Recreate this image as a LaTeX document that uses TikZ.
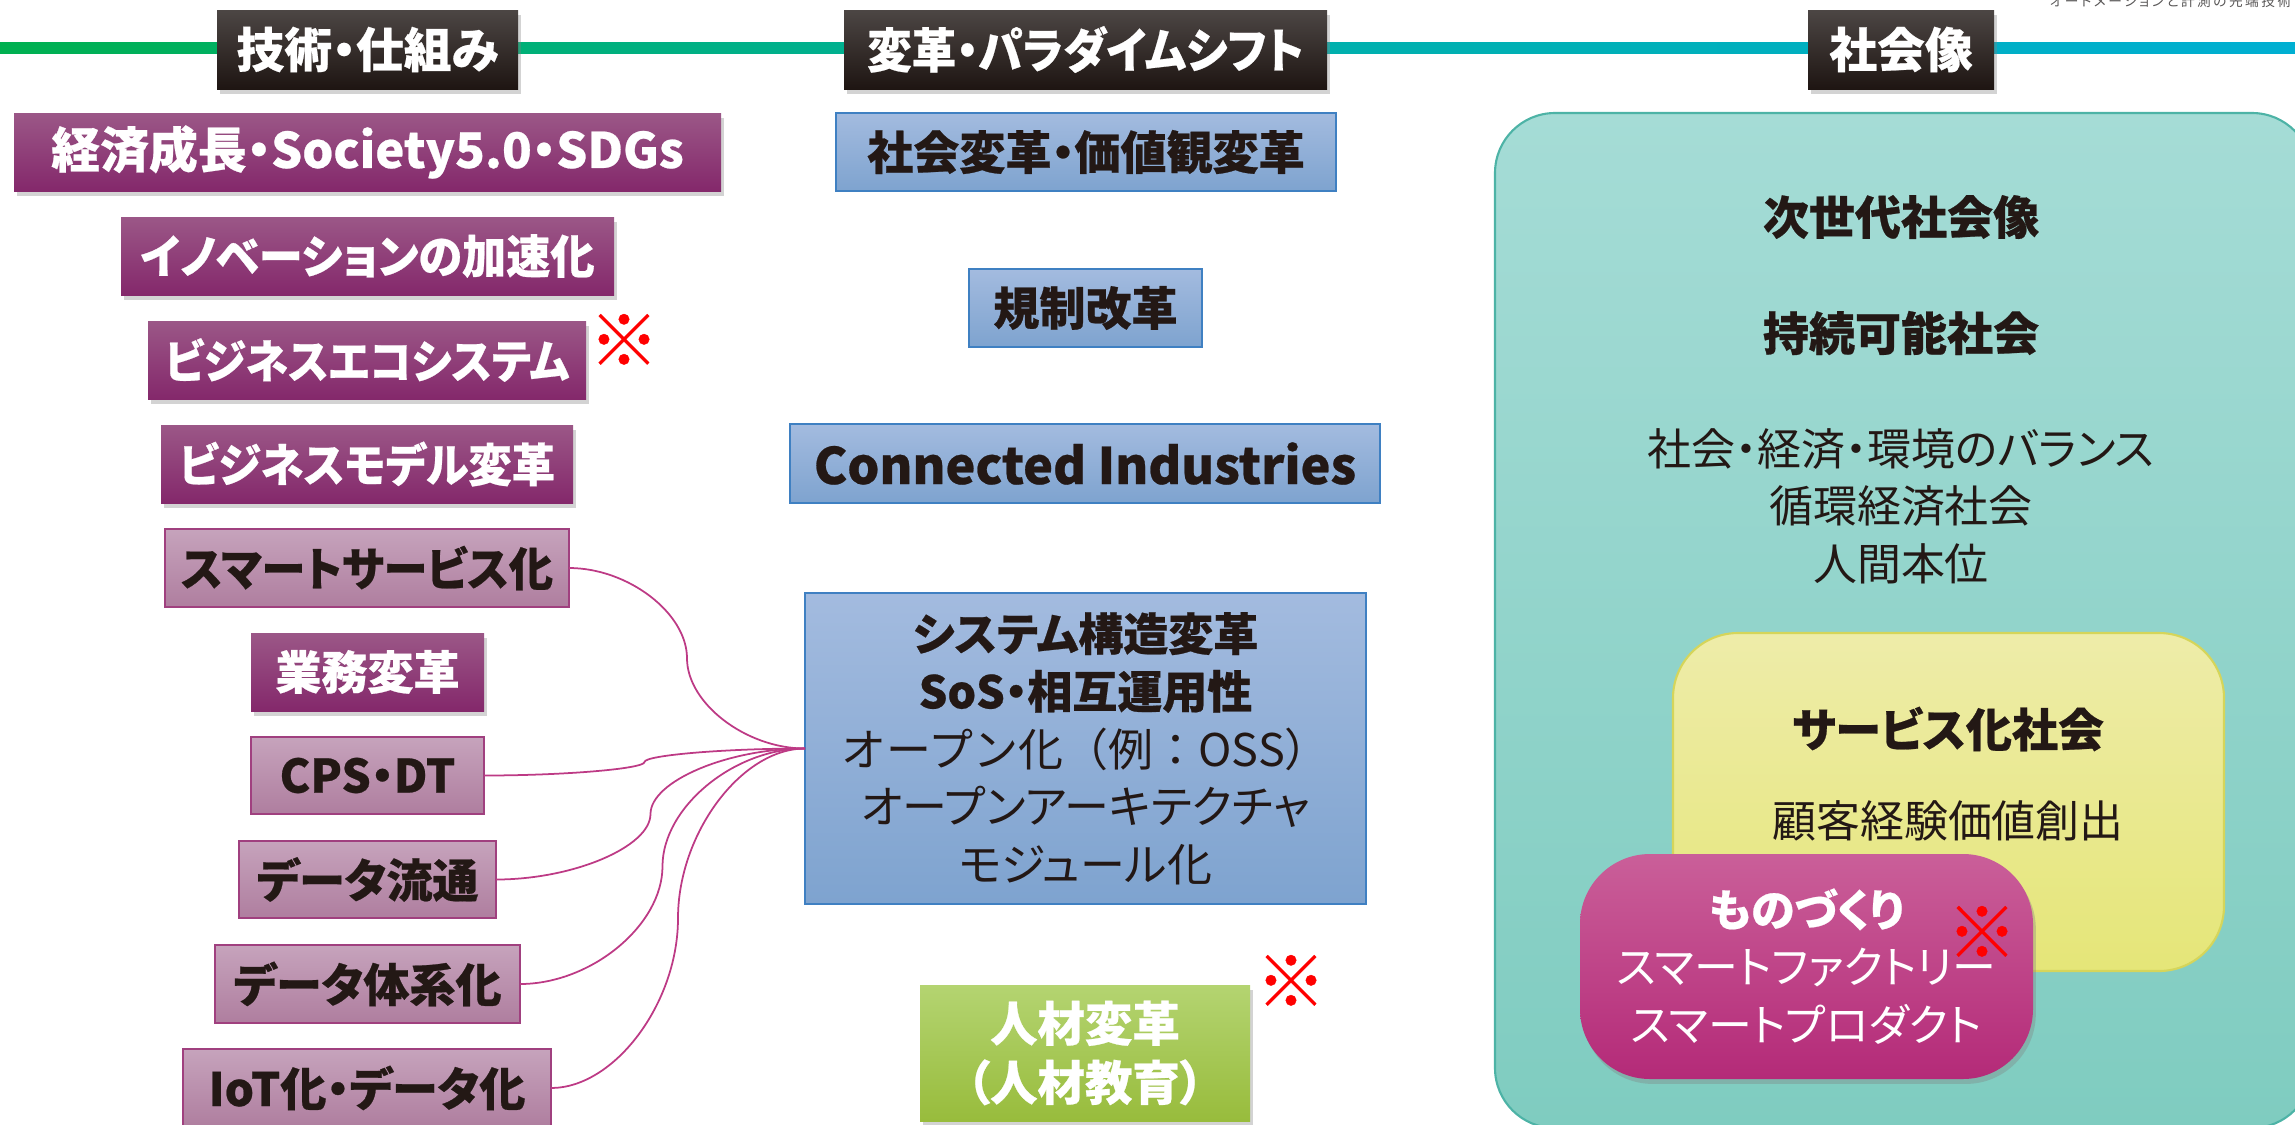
\documentclass[tikz,border=0pt]{standalone}
\usepackage{fontspec}
\setmainfont{Noto Sans CJK JP}[RawFeature=+palt,BoldFeatures={FakeBold=0.5}]
\usetikzlibrary{calc,shadows}
\definecolor{txt}{HTML}{231815}
\definecolor{hdtop}{HTML}{4C4644}
\definecolor{hdbot}{HTML}{1E1512}
\definecolor{pdtop}{HTML}{9B5787}
\definecolor{pdbot}{HTML}{84286B}
\definecolor{pltop}{HTML}{C6A3BC}
\definecolor{plbot}{HTML}{AF7E9F}
\definecolor{plbd}{HTML}{A0407F}
\definecolor{bltop}{HTML}{A3BBDF}
\definecolor{blbot}{HTML}{7EA3CF}
\definecolor{blbd}{HTML}{3F80C2}
\definecolor{grtop}{HTML}{B4D471}
\definecolor{grbot}{HTML}{98BC3C}
\definecolor{tltop}{HTML}{A5DCD6}
\definecolor{tlbot}{HTML}{7FCCC0}
\definecolor{tlbd}{HTML}{4DB3A6}
\definecolor{yltop}{HTML}{EEECA9}
\definecolor{ylbot}{HTML}{E5E678}
\definecolor{ylbd}{HTML}{D5D55A}
\definecolor{mgtop}{HTML}{CA5F99}
\definecolor{mgbot}{HTML}{B42A78}
\definecolor{conncol}{HTML}{BD3A85}
\definecolor{lngreen}{HTML}{00B050}
\definecolor{lnteal}{HTML}{00B0A6}
\definecolor{lncyan}{HTML}{00AFD2}
\definecolor{graytxt}{HTML}{595757}
\newcommand\fhd{\fontsize{13.6pt}{16.5pt}\selectfont\bfseries}
\newcommand\fbl{\fontsize{13.1pt}{16.5pt}\selectfont\bfseries}
\newcommand\freg{\fontsize{12.5pt}{16.4pt}\selectfont}
\newcommand\mkbox[7]{\node[#1,minimum width={(#5-#3)*0.1mm},minimum height={(#6-#4)*0.1mm}] (#2) at ({(#3+#5)/2},{(#4+#6)/2}) {#7};}
\newcommand\curvecon[2]{%
  \draw[conn] let \p1=(#1), \p2=(#2), \p3=($(#1)!0.5!(#2)$) in
    (\p1) .. controls ({\x1+0.25*(\x2-\x1)},\y1) and (\x3,{\y1+0.25*(\y2-\y1)}) .. (\p3)
          .. controls (\x3,{\y1+0.75*(\y2-\y1)}) and ({\x2-0.25*(\x2-\x1)},\y2) .. (\p2);}
\tikzset{
  base/.style={inner sep=0pt, outer sep=0pt, align=center, text=txt},
  shad/.style={drop shadow={shadow xshift=0.8pt,shadow yshift=-1.4pt,opacity=0.35}},
  hdr/.style={base, shad, top color=hdtop, bottom color=hdbot, text=white, font=\fhd},
  pdark/.style={base, shad, top color=pdtop, bottom color=pdbot, text=white, font=\fbl},
  plight/.style={base, top color=pltop, bottom color=plbot, draw=plbd, line width=0.6pt, font=\fbl},
  bluebox/.style={base, top color=bltop, bottom color=blbot, draw=blbd, line width=0.6pt, font=\fbl},
  greenbox/.style={base, shad, top color=grtop, bottom color=grbot, text=white, font=\fbl},
  tealbox/.style={base, top color=tltop, bottom color=tlbot, draw=tlbd, line width=0.6pt, rounded corners=6mm},
  yelbox/.style={base, top color=yltop, bottom color=ylbot, draw=ylbd, line width=0.6pt, rounded corners=6.5mm},
  magbox/.style={base, shad, top color=mgtop, bottom color=mgbot, text=white, font=\freg, rounded corners=7mm},
  refmark/.style={base, text=red, font=\fontsize{20pt}{20pt}\selectfont\bfseries},
  conn/.style={draw=conncol, line width=0.5pt},
}
\begin{document}
\begin{tikzpicture}[x=0.1mm,y=-0.1mm]
\useasboundingbox (0,0) rectangle (2295,1124);
\clip (0,0) rectangle (2295,1124);
\shade[left color=lngreen, right color=lncyan, middle color=lnteal] (0,42) rectangle (2295,53);
\node[anchor=east, inner sep=0pt, text=graytxt, font=\fontsize{3.9pt}{4pt}\selectfont\addfontfeature{LetterSpace=18}] (brand) at (2292,1) {オートメーションと計測の先端技術};
% headers
\mkbox{hdr}{h1}{217}{10}{518}{89}{技術・仕組み}
\mkbox{hdr,font=\fhd\addfontfeature{FakeStretch=0.93}}{h2}{844}{10}{1327}{89}{変革・パラダイムシフト}
\mkbox{hdr}{h3}{1808}{10}{1994}{89}{社会像}
% left column
\mkbox{pdark,font=\fontsize{13.9pt}{16.5pt}\selectfont\bfseries}{l1}{14}{113}{721}{191}{経済成長・Society5.0・SDGs}
\mkbox{pdark,font=\fbl\addfontfeature{FakeStretch=0.96}}{l2}{121}{217}{614}{295}{イノベーションの加速化}
\mkbox{pdark,font=\fbl\addfontfeature{FakeStretch=0.93}}{l3}{148}{321}{586}{399}{ビジネスエコシステム}
\mkbox{pdark,font=\fbl\addfontfeature{FakeStretch=0.94}}{l4}{161}{425}{573}{503}{ビジネスモデル変革}
\mkbox{plight,font=\fbl\addfontfeature{FakeStretch=0.96}}{l5}{165}{529}{569}{607}{スマートサービス化}
\mkbox{pdark}{l6}{251}{633}{484}{711}{業務変革}
\mkbox{plight}{l7}{251}{737}{484}{814}{CPS・DT}
\mkbox{plight}{l8}{239}{841}{496}{918}{データ流通}
\mkbox{plight}{l9}{215}{945}{520}{1023}{データ体系化}
\mkbox{plight}{l10}{183}{1049}{551}{1127}{IoT化・データ化}
% middle column
\mkbox{bluebox}{m1}{836}{113}{1336}{191}{社会変革・価値観変革}
\mkbox{bluebox}{m2}{969}{269}{1202}{347}{規制改革}
\mkbox{bluebox,font=\fontsize{14.3pt}{16.5pt}\selectfont\bfseries}{m3}{790}{424}{1380}{503}{Connected Industries}
\mkbox{bluebox,font=\fontsize{12.8pt}{16.4pt}\selectfont}{m4}{805}{593}{1366}{904}{{\bfseries システム構造変革}\\{\bfseries SoS・相互運用性}\\{\addfontfeature{RawFeature=-palt}オープン化（例：OSS）}\\オープンアーキテクチャ\\モジュール化}
\mkbox{greenbox,font=\fontsize{13.5pt}{16.8pt}\selectfont\bfseries}{m5}{920}{985}{1250}{1121}{人材変革\\（人材教育）}
% connectors
\coordinate (hub) at (m4.west);
\curvecon{l5.east}{hub}
\curvecon{l7.east}{hub}
\curvecon{l8.east}{hub}
\curvecon{l9.east}{hub}
\curvecon{l10.east}{hub}
% right column
\mkbox{tealbox}{r0}{1495}{113}{2312}{1128}{}
\node[base,font=\fbl] (r1) at (1901,217) {次世代社会像};
\node[base,font=\fbl] (r2) at (1901,333) {持続可能社会};
\node[base,font=\freg] (r3) at (1901,506) {社会・経済・環境のバランス\\循環経済社会\\人間本位};
\mkbox{yelbox}{y0}{1673}{633}{2224}{971}{}
\node[base,font=\fbl] (y1) at (1948,729) {サービス化社会};
\node[base,font=\freg] (y2) at (1948,821) {顧客経験価値創出};
\mkbox{magbox}{g0}{1580}{854}{2033}{1079}{{\bfseries ものづくり}\\スマートファクトリー\\スマートプロダクト}
% marks
\node[refmark] (x1) at (624,340) {※};
\node[refmark] (x2) at (1291,981) {※};
\node[refmark] (x3) at (1982,932) {※};
\end{tikzpicture}
\end{document}
